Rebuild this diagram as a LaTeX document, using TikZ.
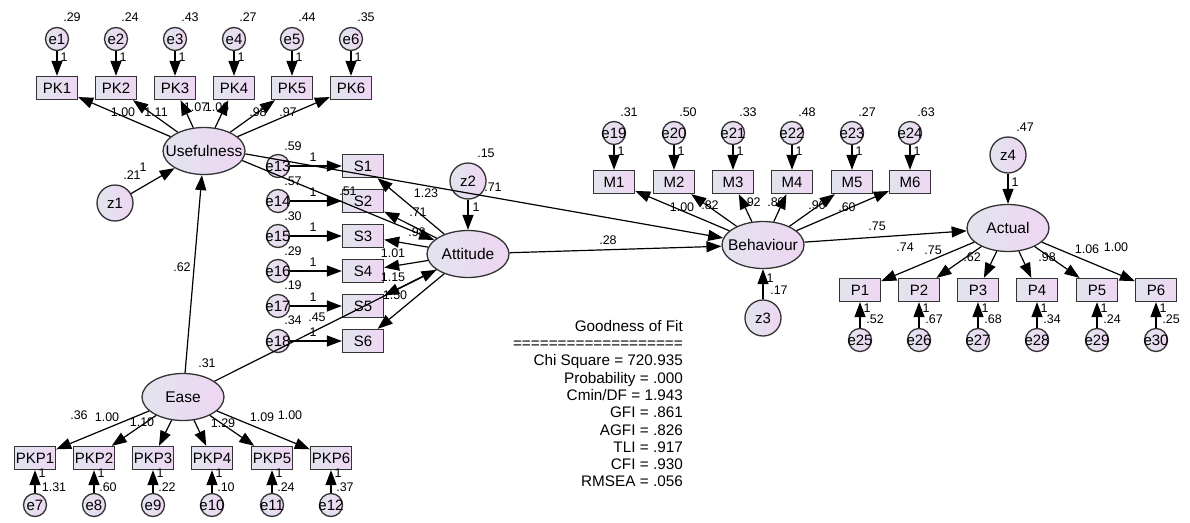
\documentclass[tikz,border=0pt]{standalone}
\usepackage{fontspec}
\setmainfont{Liberation Sans}
\usetikzlibrary{arrows.meta,shapes.geometric}
\definecolor{fillL}{RGB}{226,228,238}
\definecolor{fillR}{RGB}{238,214,242}
\newcommand{\zb}[1]{\makebox[0pt]{#1}}
\newcommand{\mylab}[3]{\node[lab] (#1) at (#2) {#3};}
\tikzset{
 base/.style={draw=black!80, line width=1.3pt, left color=fillL, right color=fillR, inner sep=0pt, font=\fontsize{15}{17}\selectfont},
 obs/.style={base, rectangle, minimum width=41pt, minimum height=23pt},
 err/.style={base, circle, minimum size=23pt},
 dist/.style={base, circle, minimum size=36pt, font=\fontsize{15}{17}\selectfont},
 lat/.style={base, ellipse, minimum width=82pt, minimum height=47pt, font=\fontsize{15.5}{17}\selectfont},
 lab/.style={font=\fontsize{12.5}{13}\selectfont, inner sep=0pt},
 arr/.style={-{Triangle[length=15pt,width=11pt]}, line width=1.2pt, draw=black},
}
\begin{document}
\begin{tikzpicture}[x=1pt,y=-1pt]
\useasboundingbox (0,0) rectangle (1190,522);
% ---------- Usefulness block
\foreach \i/\x in {1/57,2/116,3/175,4/234,5/292,6/351}{
  \node[obs] (PK\i) at (\x,88) {\zb{PK\i}};
  \node[err] (e\i) at (\x,39) {\zb{e\i}};
}
\node[lat] (U) at (204,151) {\zb{Usefulness}};
\node[dist] (z1) at (115,203) {\zb{z1}};
\node[lat] (E) at (183,397) {\zb{Ease}};
% ---------- Ease indicators
\foreach \i/\x/\e in {1/35/7,2/94/8,3/153/9,4/212/10,5/272/11,6/331/12}{
  \node[obs] (PKP\i) at (\x,458) {\zb{PKP\i}};
  \node[err] (e\e) at (\x,505) {\zb{e\e}};
}
% ---------- Attitude block
\foreach \i/\y/\e in {1/166/13,2/201/14,3/236/15,4/271/16,5/306/17,6/341/18}{
  \node[obs] (S\i) at (363,\y) {\zb{S\i}};
  \node[err] (e\e) at (278,\y) {\zb{e\e}};
}
\node[lat] (A) at (468,254) {\zb{Attitude}};
\node[dist] (z2) at (468,181) {\zb{z2}};
% ---------- Behaviour block
\foreach \i/\x/\e in {1/614/19,2/674/20,3/733/21,4/792/22,5/852/23,6/910/24}{
  \node[obs] (M\i) at (\x,182) {\zb{M\i}};
  \node[err] (e\e) at (\x,133) {\zb{e\e}};
}
\node[lat] (B) at (763,245) {\zb{Behaviour}};
\node[dist] (z3) at (763,318) {\zb{z3}};
% ---------- Actual block
\foreach \i/\x/\e in {1/860/25,2/919/26,3/978/27,4/1037/28,5/1097/29,6/1156/30}{
  \node[obs] (P\i) at (\x,290) {\zb{P\i}};
  \node[err] (e\e) at (\x,340) {\zb{e\e}};
}
\node[lat] (AC) at (1008,228) {\zb{Actual}};
\node[dist] (z4) at (1008,155) {\zb{z4}};
% ---------- connectors
\foreach \i in {1,...,6}{
  \draw[arr] (U) -- (PK\i);
  \draw[arr] (e\i) -- (PK\i);
  \draw[arr] (E) -- (PKP\i);
  \draw[arr] (A) -- (S\i);
  \draw[arr] (B) -- (M\i);
  \draw[arr] (AC) -- (P\i);
}
\foreach \i/\e in {1/7,2/8,3/9,4/10,5/11,6/12}{\draw[arr] (e\e) -- (PKP\i);}
\foreach \i/\e in {1/13,2/14,3/15,4/16,5/17,6/18}{\draw[arr] (e\e) -- (S\i);}
\foreach \i/\e in {1/19,2/20,3/21,4/22,5/23,6/24}{\draw[arr] (e\e) -- (M\i);}
\foreach \i/\e in {1/25,2/26,3/27,4/28,5/29,6/30}{\draw[arr] (e\e) -- (P\i);}
\draw[arr] (z1) -- (U);
\draw[arr] (E) -- (U);
\draw[arr] (U.-14) -- (A);
\draw[arr] (U.-4) -- (B);
\draw[arr] (E) -- (A);
\draw[arr] (z2) -- (A);
\draw[arr] (A) -- (B);
\draw[arr] (z3) -- (B);
\draw[arr] (B) -- (AC);
\draw[arr] (z4) -- (AC);
% ---------- labels: top
\mylab{v1}{72,17}{.29}\mylab{v2}{130,17}{.24}\mylab{v3}{190,17}{.43}
\mylab{v4}{248,17}{.27}\mylab{v5}{307,17}{.44}\mylab{v6}{366,17}{.35}
\foreach \x [count=\k] in {64,123,182,241,299,358}{\node[lab] (one\k) at (\x,57) {1};}
\mylab{l1}{123,112}{1.00}\mylab{l2}{156,112}{1.11}\mylab{l3}{196,107}{1.07}
\mylab{l4}{217,107}{1.06}\mylab{l5}{258,112}{.98}\mylab{l6}{288,112}{.97}
\mylab{z1v}{132,175}{.21}\mylab{z1o}{143,167}{1}
\mylab{ue}{182,267}{.62}\mylab{ev}{207,363}{.31}
% S column
\mylab{v13}{293,146}{.59}\mylab{v14}{293,181}{.57}\mylab{v15}{293,216}{.30}
\mylab{v16}{293,251}{.29}\mylab{v17}{293,285}{.19}\mylab{v18}{293,320}{.34}
\foreach \y [count=\k] in {157,192,227,262,297,332}{\node[lab] (sone\k) at (313,\y) {1};}
\mylab{s51}{348,191}{.51}\mylab{ea}{317,317}{.45}
\mylab{z2v}{486,153}{.15}\mylab{ub}{493,187}{.71}\mylab{z2o}{476,207}{1}
\mylab{a1}{426,193}{1.23}\mylab{a2}{418,212}{.71}\mylab{a3}{417,232}{.98}
\mylab{a4}{393,253}{1.01}\mylab{a5}{393,277}{1.15}\mylab{a6}{395,295}{1.50}
\mylab{ab}{608,240}{.28}
% bottom PKP
\foreach \x [count=\k] in {42,101,160,219,279,338}{\node[lab] (pone\k) at (\x,473) {1};}
\mylab{v7}{54,487}{1.31}\mylab{v8}{108,487}{.60}\mylab{v9}{167,487}{.22}
\mylab{v10}{226,487}{.10}\mylab{v11}{286,487}{.24}\mylab{v12}{345,487}{.37}
\mylab{p1}{79,415}{.36}\mylab{p2}{107,417}{1.00}\mylab{p3}{142,422}{1.10}
\mylab{p4}{223,423}{1.29}\mylab{p5}{262,417}{1.09}\mylab{p6}{290,415}{1.00}
% Behaviour
\mylab{v19}{629,112}{.31}\mylab{v20}{688,112}{.50}\mylab{v21}{748,112}{.33}
\mylab{v22}{807,112}{.48}\mylab{v23}{867,112}{.27}\mylab{v24}{926,112}{.63}
\foreach \x [count=\k] in {621,681,740,799,859,917}{\node[lab] (mone\k) at (\x,151) {1};}
\mylab{m1}{682,207}{1.00}\mylab{m2}{710,205}{.82}\mylab{m3}{752,202}{.92}
\mylab{m4}{776,202}{.80}\mylab{m5}{817,205}{.96}\mylab{m6}{847,207}{.60}
\mylab{z3o}{770,278}{1}\mylab{z3v}{779,290}{.17}
\mylab{bac}{877,226}{.75}
% Actual
\mylab{z4v}{1025,127}{.47}\mylab{z4o}{1015,182}{1}
\mylab{q1}{905,247}{.74}\mylab{q2}{933,250}{.75}\mylab{q3}{972,257}{.62}
\mylab{q4}{1047,257}{.98}\mylab{q5}{1087,249}{1.06}\mylab{q6}{1116,247}{1.00}
\foreach \x [count=\k] in {867,926,985,1044,1104,1163}{\node[lab] (aone\k) at (\x,308) {1};}
\mylab{v25}{875,319}{.52}\mylab{v26}{934,319}{.67}\mylab{v27}{993,319}{.68}
\mylab{v28}{1052,319}{.34}\mylab{v29}{1112,319}{.24}\mylab{v30}{1171,319}{.25}
% Goodness of fit
\node[anchor=north east, align=right, inner sep=0pt, font=\fontsize{15.3}{17.3}\selectfont] (gof) at (683,320)
 {Goodness of Fit\\ ===================\\ Chi Square = 720.935\\ Probability = .000\\ Cmin/DF = 1.943\\ GFI = .861\\ AGFI = .826\\ TLI = .917\\ CFI = .930\\ RMSEA = .056};
\end{tikzpicture}
\end{document}
